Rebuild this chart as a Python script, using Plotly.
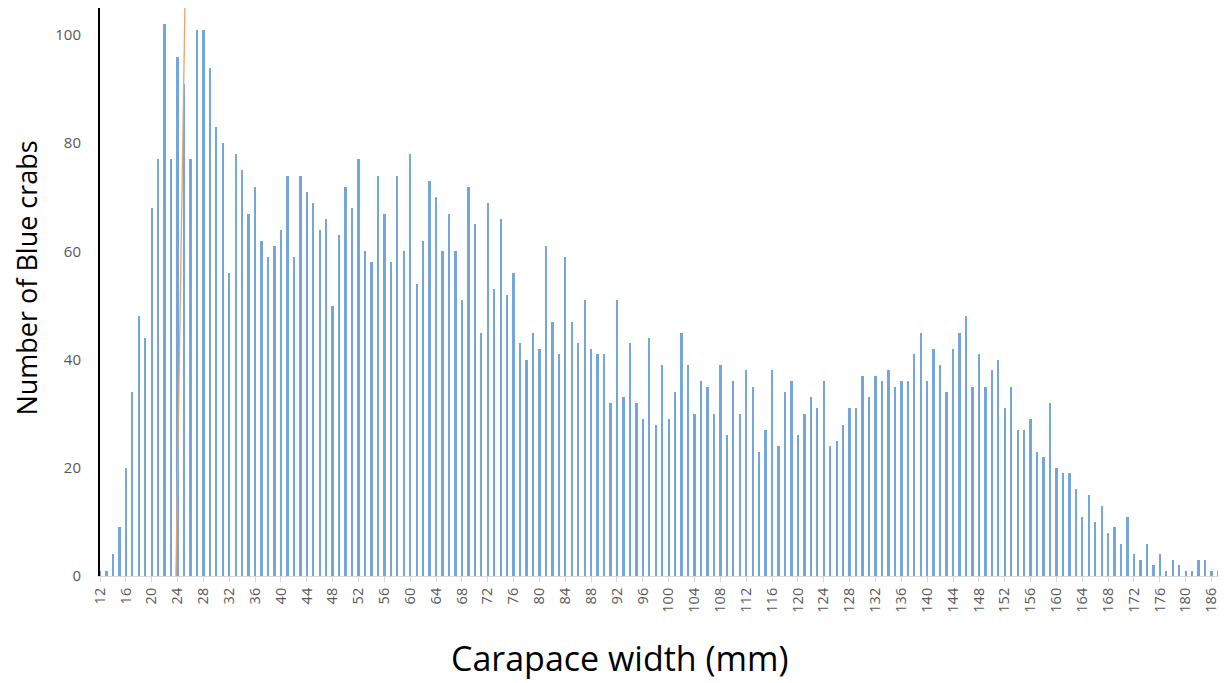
import plotly.graph_objects as go

# Carapace width classes (mm) shown on the category axis
widths = list(range(12, 181)) + [181, 182, 184, 186, 187]

# Number of blue crabs per width class
counts = [
    1, 1, 4, 9, 20, 34, 48, 44, 68, 77,          # 12-21
    102, 77, 96, 91, 77, 101, 101, 94, 83, 80,   # 22-31
    56, 78, 75, 67, 72, 62, 59, 61, 64, 74,      # 32-41
    59, 74, 71, 69, 64, 66, 50, 63, 72, 68,      # 42-51
    77, 60, 58, 74, 67, 58, 74, 60, 78, 54,      # 52-61
    62, 73, 70, 60, 67, 60, 51, 72, 65, 45,      # 62-71
    69, 53, 66, 52, 56, 43, 40, 45, 42, 61,      # 72-81
    47, 41, 59, 47, 43, 51, 42, 41, 41, 32,      # 82-91
    51, 33, 43, 32, 29, 44, 28, 39, 29, 34,      # 92-101
    45, 39, 30, 36, 35, 30, 39, 26, 36, 30,      # 102-111
    38, 35, 23, 27, 38, 24, 34, 36, 26, 30,      # 112-121
    33, 31, 36, 24, 25, 28, 31, 31, 37, 33,      # 122-131
    37, 36, 38, 35, 36, 36, 41, 45, 36, 42,      # 132-141
    39, 34, 42, 45, 48, 35, 41, 35, 38, 40,      # 142-151
    31, 35, 27, 27, 29, 23, 22, 32, 20, 19,      # 152-161
    19, 16, 11, 15, 10, 13, 8, 9, 6, 11,         # 162-171
    4, 3, 6, 2, 4, 1, 3, 2, 1,                   # 172-180
    1, 3, 3, 1, 1,                               # 181, 182, 184, 186, 187
]

x_cats = [str(w) for w in widths]
tick_labels = x_cats[::4]

y_ticks = [0, 20, 40, 60, 80, 100]

# Reference line (hand-drawn, slightly slanted) in mm: bottom, top
ref_line_mm = (23.75, 25.15)
ref_line_top_value = 106


def cat_pos(mm):
    base = widths.index(int(mm))
    return base + (mm - int(mm))


fig = go.Figure()
fig.add_trace(go.Bar(
    x=x_cats,
    y=counts,
    width=0.36,
    marker=dict(color="#75A6DB", line=dict(width=0)),
    showlegend=False,
))

fig.add_shape(
    type="line",
    xref="x", yref="y",
    x0=cat_pos(ref_line_mm[0]), y0=0,
    x1=cat_pos(ref_line_mm[1]), y1=ref_line_top_value,
    line=dict(color="#E9A26A", width=1.3),
    layer="above",
)

fig.update_layout(
    width=1223, height=675,
    margin=dict(l=92, r=13, t=0, b=107),
    paper_bgcolor="white",
    plot_bgcolor="white",
    font=dict(family="Open Sans, Liberation Sans, sans-serif", color="#595959"),
    bargap=0,
    annotations=[
        dict(text="Carapace width (mm)", xref="paper", yref="paper",
             x=0.465, y=-0.1444, xanchor="center", yanchor="middle",
             showarrow=False, borderpad=0,
             font=dict(size=34, color="#000000")),
        dict(text="Number of Blue crabs", xref="paper", yref="paper",
             x=-0.0655, y=0.525, xanchor="center", yanchor="middle",
             textangle=-90, showarrow=False, borderpad=0,
             font=dict(size=27, color="#000000")),
    ],
)

fig.update_xaxes(
    type="category",
    categoryorder="array",
    categoryarray=x_cats,
    range=[0, len(x_cats) - 1],
    tickmode="array",
    tickvals=tick_labels,
    ticktext=tick_labels,
    tickangle=-90,
    tickfont=dict(size=14.5, color="#595959"),
    ticks="outside",
    ticklen=5,
    tickcolor="#D9D9D9",
    showline=True,
    linecolor="#D9D9D9",
    linewidth=1,
    showgrid=False,
    zeroline=False,
)

fig.update_yaxes(
    range=[0, 105],
    tickmode="array",
    tickvals=y_ticks,
    ticktext=[str(v) for v in y_ticks],
    tickfont=dict(size=15, color="#595959"),
    ticks="",
    ticklabelstandoff=14,
    showline=True,
    linecolor="#000000",
    linewidth=2,
    showgrid=False,
    zeroline=False,
)

fig.write_html("out.html")
